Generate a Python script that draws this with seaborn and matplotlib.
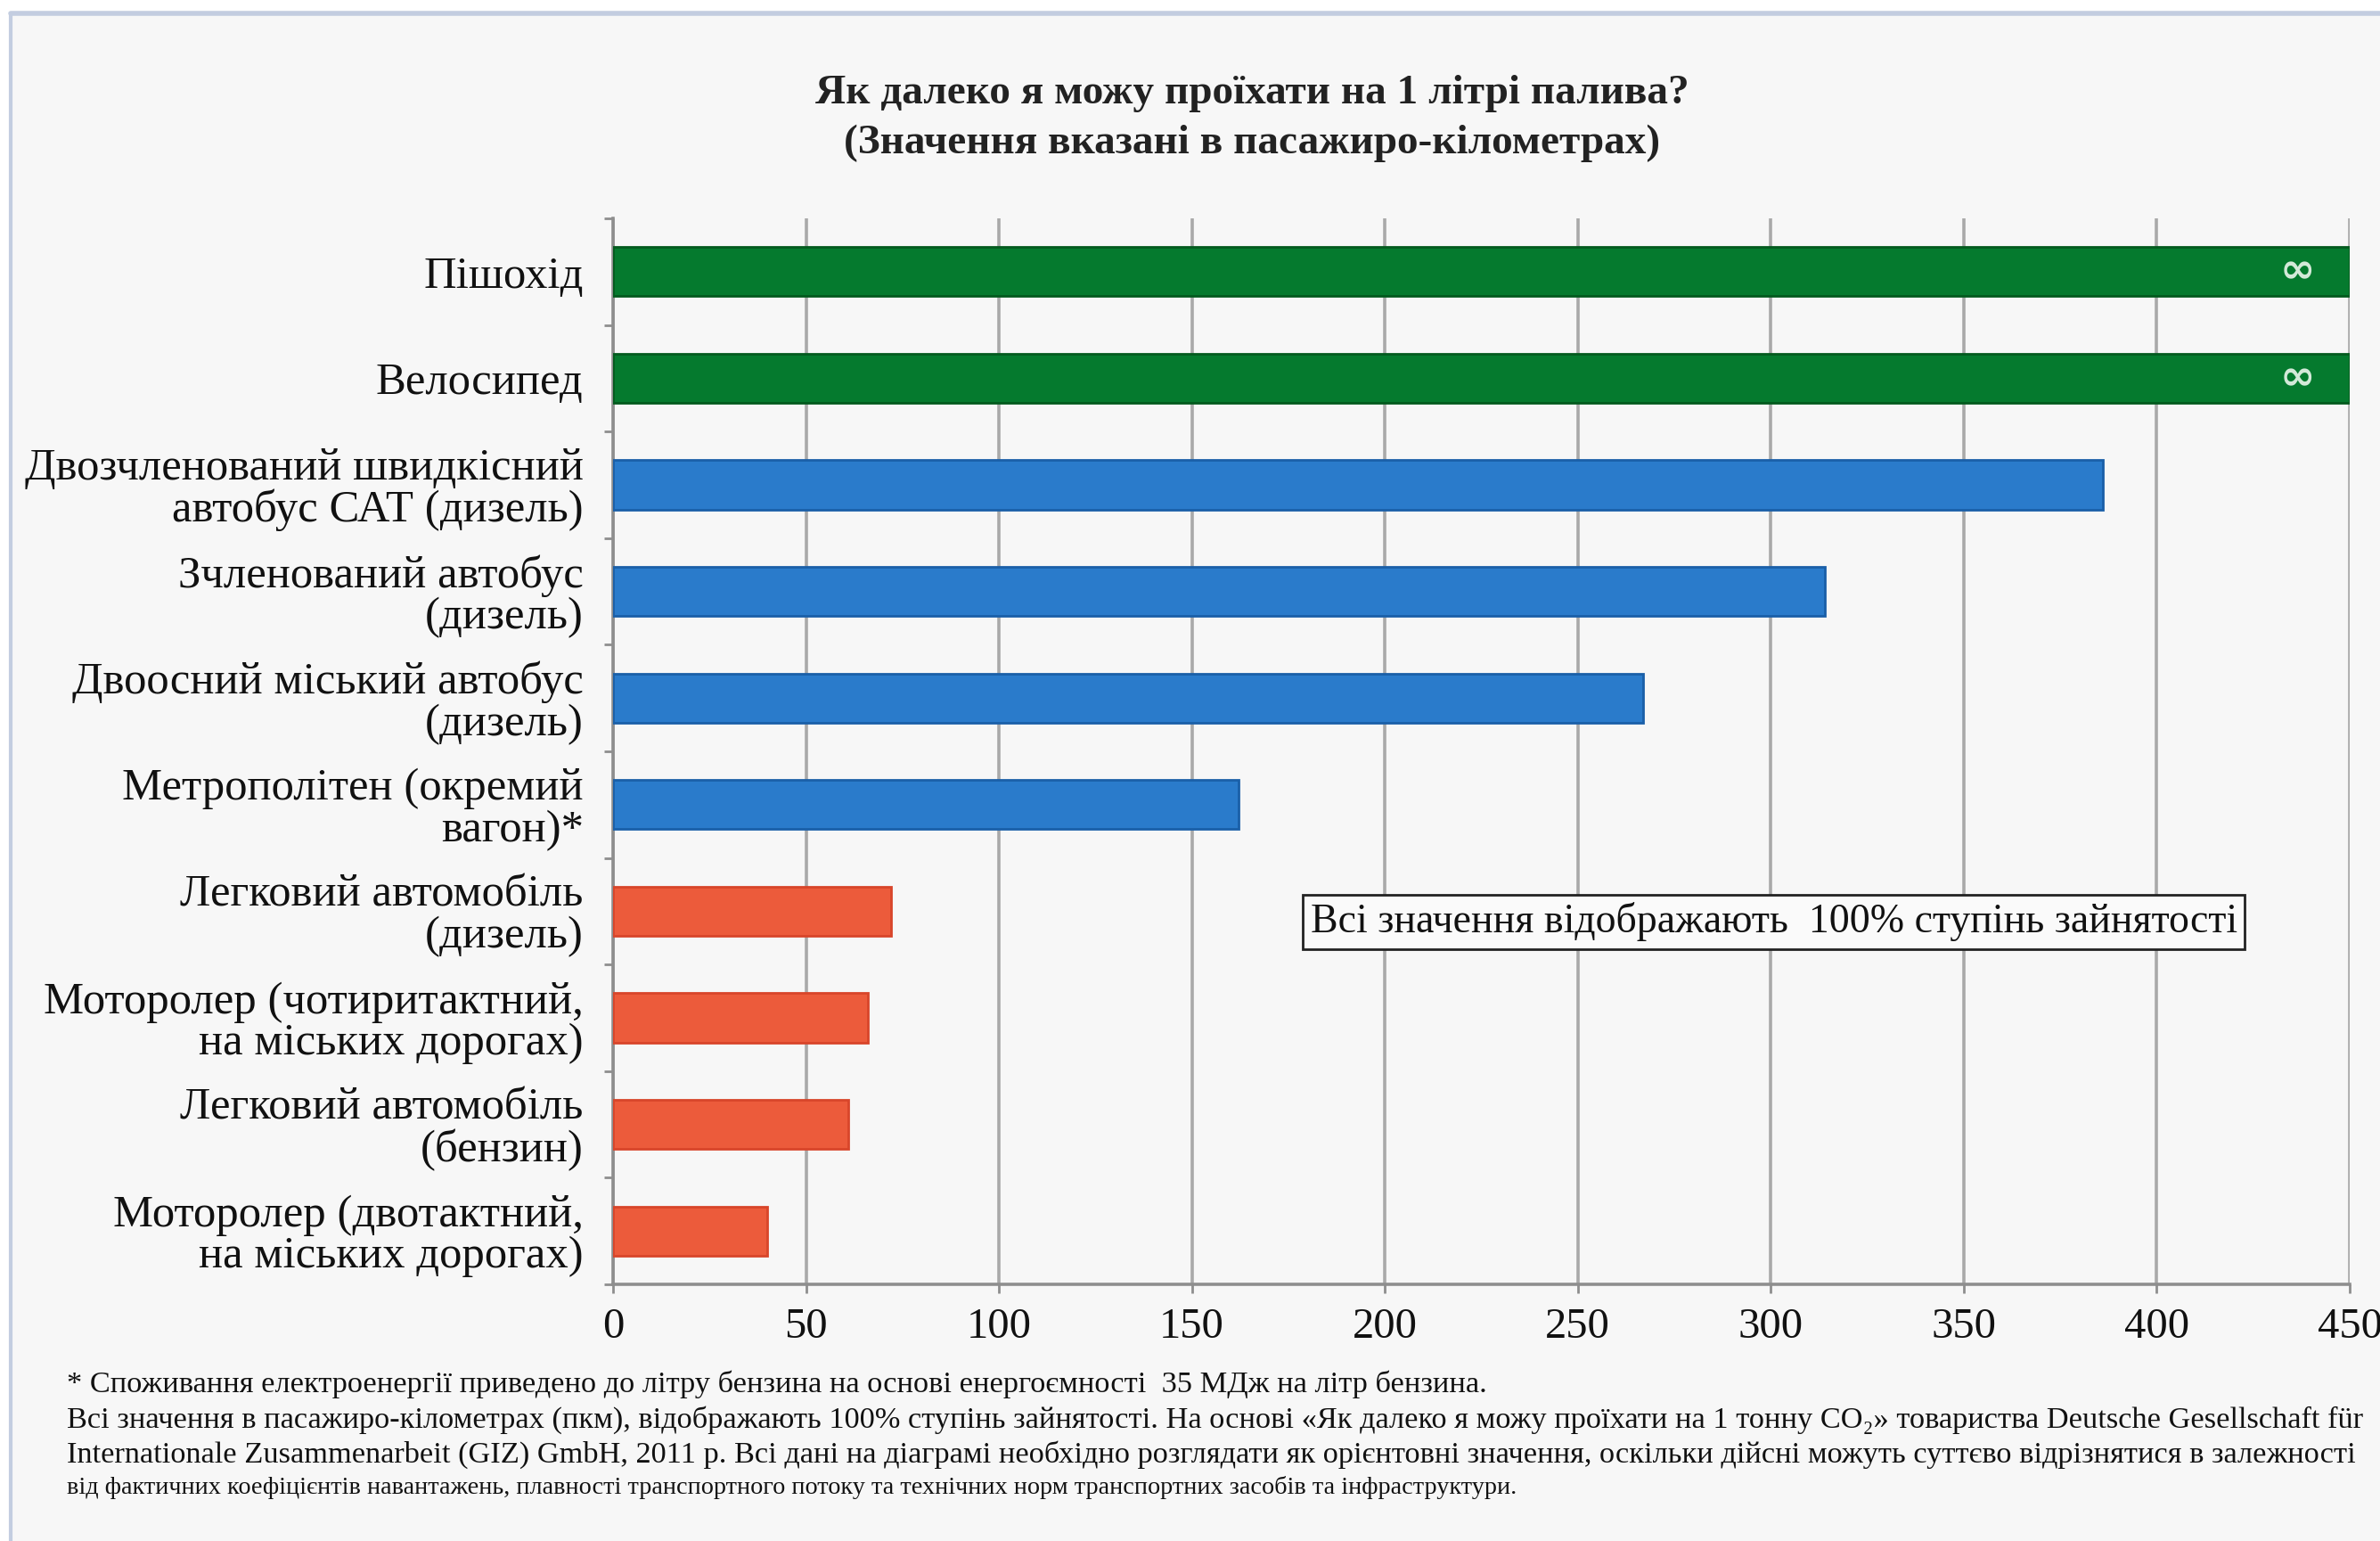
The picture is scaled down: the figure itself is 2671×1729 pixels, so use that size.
import numpy as np
import pandas as pd
import matplotlib
matplotlib.use("Agg")
import matplotlib.pyplot as plt
import seaborn as sns
from matplotlib.patches import Rectangle
from matplotlib.ticker import FixedLocator, MultipleLocator

# ---------------- data ----------------
categories = [
    "Пішохід",
    "Велосипед",
    "Двозчленований швидкісний\nавтобус САТ (дизель)",
    "Зчленований автобус\n(дизель)",
    "Двоосний міський автобус\n(дизель)",
    "Метрополітен (окремий\nвагон)*",
    "Легковий автомобіль\n(дизель)",
    "Моторолер (чотиритактний,\nна міських дорогах)",
    "Легковий автомобіль\n(бензин)",
    "Моторолер (двотактний,\nна міських дорогах)",
]
values = [np.inf, np.inf, 386, 314, 267, 162, 72, 66, 61, 40]
groups = ["nonmotor", "nonmotor", "public", "public", "public", "public",
          "private", "private", "private", "private"]
x_ticks = [0, 50, 100, 150, 200, 250, 300, 350, 400, 450]

title = "Як далеко я можу проїхати на 1 літрі палива?\n(Значення вказані в пасажиро-кілометрах)"
note_box = "Всі значення відображають  100% ступінь зайнятості"
footnotes = [
    "* Споживання електроенергії приведено до літру бензина на основі енергоємності  35 МДж на літр бензина.",
    "Всі значення в пасажиро-кілометрах (пкм), відображають 100% ступінь зайнятості. На основі «Як далеко я можу проїхати на 1 тонну CO₂» товариства Deutsche Gesellschaft für",
    "Internationale Zusammenarbeit (GIZ) GmbH, 2011 р. Всі дані на діаграмі необхідно розглядати як орієнтовні значення, оскільки дійсні можуть суттєво відрізнятися в залежності",
    "від фактичних коефіцієнтів навантажень, плавності транспортного потоку та технічних норм транспортних засобів та інфраструктури.",
]

palette = {"nonmotor": "#057a2e", "public": "#2a7bcb", "private": "#ec5b3b"}
edges = {"nonmotor": "#035a1e", "public": "#1a5fa8", "private": "#d8452a"}

xmax = x_ticks[-1]
df = pd.DataFrame({"category": categories, "value": values, "group": groups})
df["shown"] = np.minimum(df["value"], xmax)

# ---------------- figure ----------------
W, H = 2671, 1729
dpi = 100
sns.set_theme(style="white")
plt.rcParams["font.family"] = ["Liberation Serif", "DejaVu Serif"]

fig = plt.figure(figsize=(W / dpi, H / dpi), dpi=dpi, facecolor="white")

# panel background with light border (like the source slide)
fig.patches.append(Rectangle((12 / W, 0), 1, 1 - 17 / H, transform=fig.transFigure,
                             facecolor="#f7f7f7", edgecolor="none", zorder=-10))
fig.add_artist(plt.Line2D([12 / W, 12 / W], [0, 1 - 15 / H], transform=fig.transFigure,
                          color="#c3cde0", lw=3))
fig.add_artist(plt.Line2D([12 / W, 1], [1 - 15 / H, 1 - 15 / H], transform=fig.transFigure,
                          color="#c3cde0", lw=4))

left, right, top, bottom = 688, 2637, 245, 1441
ax = fig.add_axes([left / W, 1 - bottom / H, (right - left) / W, (bottom - top) / H])
ax.set_facecolor("#f7f7f7")

sns.barplot(data=df, y="category", x="shown", hue="group", palette=palette,
            saturation=1, dodge=False, legend=False, width=0.46, ax=ax, orient="h", zorder=3)

# edge colours per bar
for patch, g in zip(ax.patches, df["group"]):
    patch.set_edgecolor(edges[g])
    patch.set_linewidth(2.0)

ax.set_xlim(0, xmax)
ax.set_ylim(len(categories) - 0.5, -0.5)
ax.xaxis.set_major_locator(FixedLocator(x_ticks))
ax.set_xlabel("")
ax.set_ylabel("")

ax.grid(axis="x", color="#a9a9a9", lw=2.6, zorder=0)
ax.grid(axis="y", visible=False)
for s in ["top", "right"]:
    ax.spines[s].set_visible(False)
for s in ["left", "bottom"]:
    ax.spines[s].set_color("#8e8e8e")
    ax.spines[s].set_linewidth(2.6)

ax.tick_params(axis="x", which="major", length=7, width=2, color="#8e8e8e",
               labelsize=35, pad=12, labelcolor="#111111", direction="out", bottom=True)
ax.tick_params(axis="y", which="major", length=0, labelsize=36.5, pad=24, labelcolor="#111111")
ax.yaxis.set_minor_locator(MultipleLocator(1, offset=0.5))
ax.tick_params(axis="y", which="minor", length=7, width=2, color="#8e8e8e", left=True, direction="out")
for lab in ax.get_yticklabels():
    lab.set_linespacing(1.0)
    lab.set_horizontalalignment("right")

# infinity markers on unbounded bars
for i, v in enumerate(df["value"]):
    if np.isinf(v):
        ax.text(436.5, i, "∞", color="#d3e9d8", fontsize=34, fontweight="bold",
                ha="center", va="center", zorder=5, family=["DejaVu Sans"])

# annotation box
ax.text(300.8, 6.1, note_box, fontsize=33, ha="center", va="center", color="#111111", zorder=6,
        bbox=dict(boxstyle="square,pad=0.18", facecolor="#fafafa", edgecolor="#222222", lw=2))

# title
fig.text(1405 / W, 1 - 133 / H, title, ha="center", va="center", fontsize=34,
         fontweight="bold", color="#222222", linespacing=1.45)

# footnotes: common size fitted to the full-width line; last line fitted to its own width
renderer = fig.canvas.get_renderer()
foot_y = [1553, 1593, 1632, 1669]
texts = [fig.text(75 / W, 1 - yy / H, txt, ha="left", va="center", fontsize=24, color="#111111")
         for txt, yy in zip(footnotes, foot_y)]
w = texts[1].get_window_extent(renderer).width
fs = 24 * (2654 - 75) / w
for t in texts:
    t.set_fontsize(fs)
w4 = texts[3].get_window_extent(renderer).width
texts[3].set_fontsize(fs * (1703 - 75) / w4)

fig.savefig("out.png", dpi=dpi, facecolor="white")
